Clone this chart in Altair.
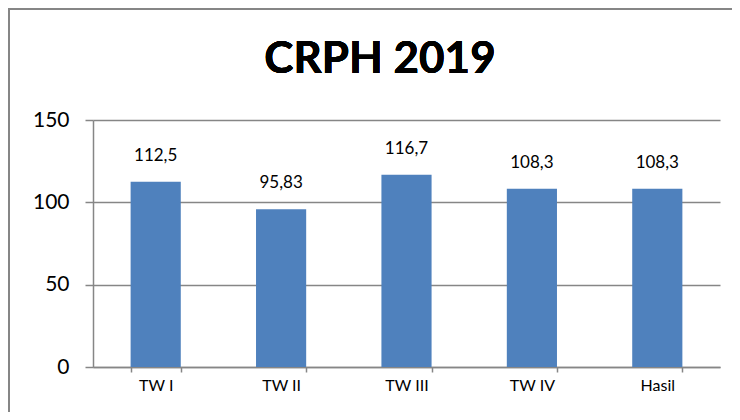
import altair as alt
import pandas as pd

categories = ["TW I", "TW II", "TW III", "TW IV", "Hasil"]
values = [112.5, 95.83, 116.7, 108.3, 108.3]
labels = ["112,5", "95,83", "116,7", "108,3", "108,3"]

df = pd.DataFrame({"cat": categories, "val": values, "lab": labels})

FONT = "Lato"
GRAY = "#868686"

x = alt.X("cat:N", sort=categories, title=None,
          scale=alt.Scale(paddingInner=0.6, paddingOuter=0.3),
          axis=alt.Axis(labelAngle=0, labelFontSize=16, labelColor="#000000",
                        labelFont=FONT, domainColor=GRAY, tickColor=GRAY,
                        tickBand="extent", tickSize=5, labelPadding=5,
                        grid=False, domainWidth=1.5, tickWidth=1.5))
y = alt.Y("val:Q", title=None,
          scale=alt.Scale(domain=[0, 150], nice=False),
          axis=alt.Axis(values=[0, 50, 100, 150], labelFontSize=21,
                        labelColor="#000000", labelFont=FONT,
                        domainColor=GRAY, tickColor=GRAY, tickSize=8,
                        labelPadding=16, gridColor=GRAY, gridWidth=1.5,
                        domainWidth=1.5, tickWidth=1.5))

bars = alt.Chart(df).mark_bar(color="#4F81BD").encode(x=x, y=y)
text = alt.Chart(df).mark_text(dy=-26, fontSize=17, font=FONT, color="#000000").encode(
    x=alt.X("cat:N", sort=categories), y="val:Q", text="lab:N")

top_line = alt.Chart(df).mark_rule(stroke=GRAY, strokeWidth=2).encode(
    x=alt.value(-85), x2=alt.value(700), y=alt.value(-111))
left_line = alt.Chart(df).mark_rule(stroke=GRAY, strokeWidth=2).encode(
    x=alt.value(-84), y=alt.value(-112), y2=alt.value(400))

title = alt.Chart(df).mark_text(fontSize=44, fontWeight="bold", font=FONT,
                                color="#000000", baseline="alphabetic").encode(
    x=alt.value(287), y=alt.value(-47), text=alt.value("CRPH 2019"))

chart = alt.layer(bars, text, top_line, left_line, title).properties(
    width=627, height=247,
    autosize=alt.AutoSizeParams(type="none"),
    padding={"left": 85, "top": 112, "right": 12, "bottom": 45},
).configure_view(stroke=None)

chart.save("out.html", embed_options={"renderer": "svg", "actions": False})
